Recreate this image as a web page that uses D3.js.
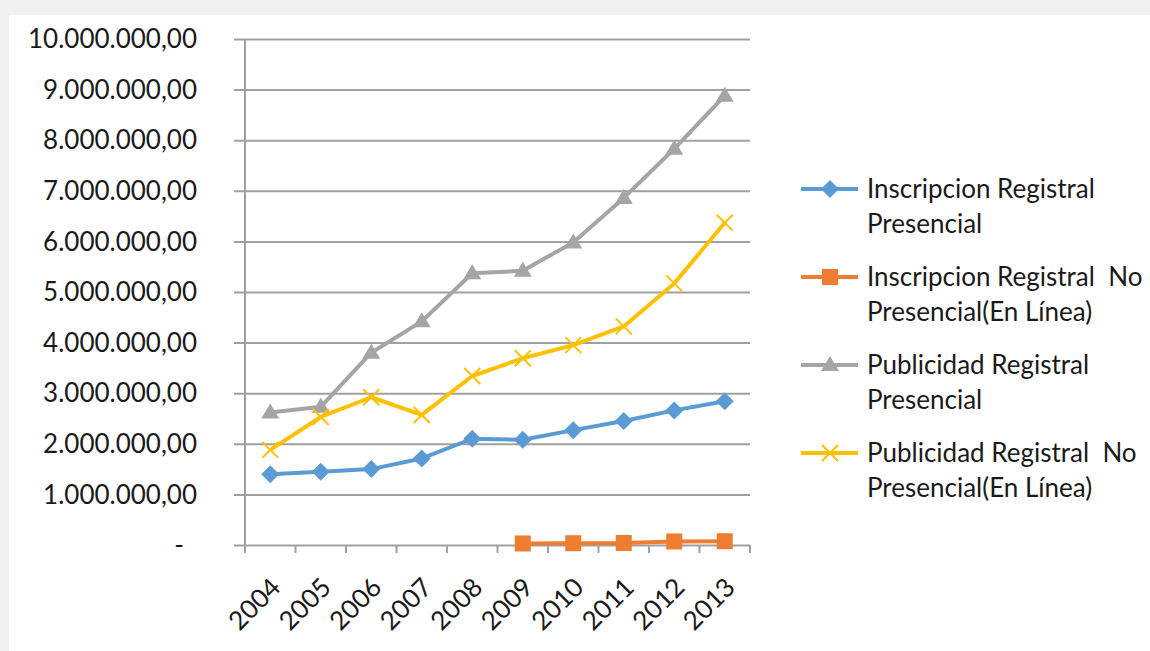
<!DOCTYPE html>
<html>
<head>
<meta charset="utf-8">
<script src="https://cdn.jsdelivr.net/npm/d3@7"></script>
<style>
  body { margin: 0; background: #f1f1f1; }
  #chart { position: absolute; left: 9px; top: 15px; background: #fff; }
  text { font-family: Lato, "Open Sans", sans-serif; fill: #1a1a1a; }
</style>
</head>
<body>
<svg id="chart"></svg>
<script>
// years on the x axis
const years = ['2004','2005','2006','2007','2008','2009','2010','2011','2012','2013'];

// series values
const inscripcionPresencial = [1400000, 1450000, 1500000, 1710000, 2100000, 2080000, 2270000, 2450000, 2660000, 2840000];
const inscripcionEnLinea = [null, null, null, null, null, 30000, 35000, 40000, 70000, 75000];
const publicidadPresencial = [2620000, 2730000, 3800000, 4420000, 5370000, 5420000, 5980000, 6860000, 7830000, 8880000];
const publicidadEnLinea = [1880000, 2530000, 2920000, 2570000, 3340000, 3690000, 3950000, 4320000, 5170000, 6370000];

const seriesNames = [
  ['Inscripcion Registral', 'Presencial'],
  ['Inscripcion Registral\u00a0 No', 'Presencial(En L\u00ednea)'],
  ['Publicidad Registral', 'Presencial'],
  ['Publicidad Registral\u00a0 No', 'Presencial(En L\u00ednea)']
];
const seriesColors = ['#5b9bd5', '#ed7d31', '#a5a5a5', '#ffc000'];
const seriesMarkers = ['diamond', 'square', 'triangle', 'cross'];

const yTicks = [0, 1000000, 2000000, 3000000, 4000000, 5000000, 6000000, 7000000, 8000000, 9000000, 10000000];

// offsets are relative to the white panel (9,15)
const W = 1141, H = 636;
const margin = { left: 236, top: 24, right: 1141 - 741, bottom: 636 - 530 };
const fontSize = '26px';

const svg = d3.select('#chart').attr('width', W).attr('height', H);

const x = d3.scaleBand()
  .domain(years)
  .range([margin.left, W - margin.right]);

const y = d3.scaleLinear()
  .domain([0, 10000000])
  .range([H - margin.bottom, margin.top]);

// number format like 1.000.000,00
const fmt = d3.formatLocale({ decimal: ',', thousands: '.', grouping: [3], currency: ['', ''] }).format(',.2f');

// gridlines + y axis
const yAxis = svg.append('g')
  .attr('transform', `translate(${margin.left},0)`)
  .call(d3.axisLeft(y).tickValues(yTicks).tickSize(-(W - margin.right - margin.left)).tickFormat(''));
yAxis.select('.domain').remove();
yAxis.selectAll('line').attr('stroke', '#a0a0a0').attr('stroke-width', 2)
  .attr('x2', W - margin.right - margin.left).attr('x1', -11);

svg.append('line')
  .attr('x1', margin.left).attr('x2', margin.left)
  .attr('y1', y(10000000)).attr('y2', y(0) + 8)
  .attr('stroke', '#a0a0a0').attr('stroke-width', 2);

// y labels
svg.append('g').selectAll('text')
  .data(yTicks)
  .join('text')
  .attr('x', d => d === 0 ? 175 : 188)
  .attr('y', d => y(d))
  .attr('dy', '0.35em')
  .attr('text-anchor', 'end')
  .style('font-size', fontSize)
  .text(d => d === 0 ? '-' : fmt(d));

// x axis
const xAxis = svg.append('g')
  .attr('transform', `translate(0,${y(0)})`)
  .call(d3.axisBottom(x).tickSize(0).tickFormat(''));
xAxis.select('.domain').remove();

svg.append('g').selectAll('line')
  .data(years.concat(['end']))
  .join('line')
  .attr('x1', (d, i) => margin.left + i * x.bandwidth())
  .attr('x2', (d, i) => margin.left + i * x.bandwidth())
  .attr('y1', y(0)).attr('y2', y(0) + 8)
  .attr('stroke', '#a0a0a0').attr('stroke-width', 2);

svg.append('g').selectAll('text')
  .data(years)
  .join('text')
  .attr('text-anchor', 'end')
  .style('font-size', fontSize)
  .attr('transform', d => `translate(${x(d) + x.bandwidth() / 2 + 12},${y(0) + 44}) rotate(-45)`)
  .text(d => d);

// marker drawing
function drawMarker(g, type, color) {
  if (type === 'diamond') {
    g.append('path').attr('d', 'M0,-9L9,0L0,9L-9,0Z').attr('fill', color);
  } else if (type === 'square') {
    g.append('rect').attr('x', -8).attr('y', -8).attr('width', 16).attr('height', 16).attr('fill', color);
  } else if (type === 'triangle') {
    g.append('path').attr('d', 'M0,-9L9,6L-9,6Z').attr('fill', color);
  } else {
    g.append('path').attr('d', 'M-8,-8L8,8M-8,8L8,-8').attr('stroke', color).attr('stroke-width', 2).attr('fill', 'none');
  }
}

const allSeries = [inscripcionPresencial, inscripcionEnLinea, publicidadPresencial, publicidadEnLinea];
const drawOrder = [2, 3, 0, 1];

const line = d3.line()
  .defined(d => d.v !== null)
  .x(d => x(d.year) + x.bandwidth() / 2)
  .y(d => y(d.v));

drawOrder.forEach(si => {
  const pts = years.map((yr, i) => ({ year: yr, v: allSeries[si][i] }));
  svg.append('path')
    .datum(pts)
    .attr('d', line)
    .attr('fill', 'none')
    .attr('stroke', seriesColors[si])
    .attr('stroke-width', 4)
    .attr('stroke-linejoin', 'round');
  pts.filter(p => p.v !== null).forEach(p => {
    const g = svg.append('g')
      .attr('transform', `translate(${x(p.year) + x.bandwidth() / 2},${y(p.v)})`);
    drawMarker(g, seriesMarkers[si], seriesColors[si]);
  });
});

// legend
const legend = svg.append('g');
seriesNames.forEach((names, i) => {
  const ly = 174 + i * 88;
  const g = legend.append('g').attr('transform', `translate(792,${ly})`);
  g.append('line').attr('x1', 0).attr('x2', 57).attr('y1', 0).attr('y2', 0)
    .attr('stroke', seriesColors[i]).attr('stroke-width', 4);
  const m = g.append('g').attr('transform', 'translate(29,0)');
  drawMarker(m, seriesMarkers[i], seriesColors[i]);
  g.append('text').attr('x', 66).attr('y', 9).style('font-size', fontSize).text(names[0]);
  g.append('text').attr('x', 66).attr('y', 44).style('font-size', fontSize).text(names[1]);
});
</script>
</body>
</html>
